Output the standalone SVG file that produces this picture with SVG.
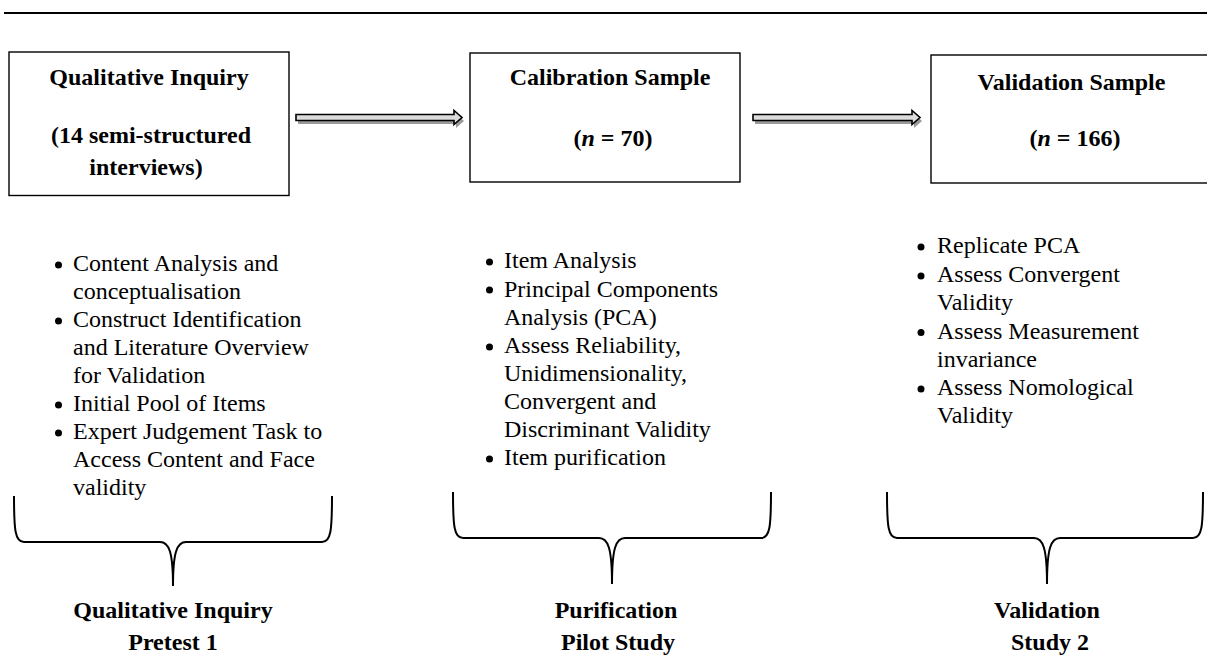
<svg xmlns="http://www.w3.org/2000/svg" width="1207" height="657" viewBox="0 0 1207 657">
<style>
text{font-family:"Liberation Serif","Times New Roman",serif;font-size:24px;fill:#000}
.b{font-weight:bold}
.m{text-anchor:middle}
.box{fill:#fff;stroke:#000;stroke-width:1.4}
.brace{fill:none;stroke:#000;stroke-width:2}
.arr{fill:#dcdcdc;stroke:#000;stroke-width:1.6;stroke-linejoin:miter}
.sh{fill:#9a9a9a}
</style>
<defs>
<polygon id="arrowShape" points="0,-3 -1,-3 0,-3 0,-3"/>
</defs>
<line x1="4" y1="13" x2="1207" y2="13" stroke="#000" stroke-width="2.2"/>

<g id="connectors">
<g id="arrow1">
<polygon class="sh" points="298,118 456,118 456,114 464,121 456,128 456,124 298,124"/>
<polygon class="arr" points="296,114.5 454,114.5 454,110.5 462,117.5 454,124.5 454,120.5 296,120.5"/>
</g>
<g id="arrow2">
<polygon class="sh" points="755,118 914,118 914,114 922,121 914,128 914,124 755,124"/>
<polygon class="arr" points="753,114.5 912,114.5 912,110.5 920,117.5 912,124.5 912,120.5 753,120.5"/>
</g>
</g>

<g id="node-qualitative">
<rect class="box" x="9" y="52" width="280" height="143.5"/>
<text class="b m" x="149" y="85">Qualitative Inquiry</text>
<text class="b m" x="151" y="143">(14 semi-structured</text>
<text class="b m" x="146" y="175">interviews)</text>
</g>

<g id="node-calibration">
<rect class="box" x="470" y="53" width="270" height="129"/>
<text class="b m" x="610" y="85">Calibration Sample</text>
<text class="b m" x="613" y="146">(<tspan font-style="italic">n</tspan> = 70)</text>
</g>

<g id="node-validation">
<rect class="box" x="931" y="55" width="290" height="128"/>
<text class="b m" x="1071.5" y="90">Validation Sample</text>
<text class="b m" x="1075" y="146">(<tspan font-style="italic">n</tspan> = 166)</text>
</g>

<g id="list-qualitative">
<circle cx="58.5" cy="265" r="3.5"/>
<circle cx="58.5" cy="321" r="3.5"/>
<circle cx="58.5" cy="405" r="3.5"/>
<circle cx="58.5" cy="433" r="3.5"/>
<text x="73" y="271">Content Analysis and</text>
<text x="73" y="299">conceptualisation</text>
<text x="73" y="327">Construct Identification</text>
<text x="73" y="355">and Literature Overview</text>
<text x="73" y="383">for Validation</text>
<text x="73" y="411">Initial Pool of Items</text>
<text x="73" y="439">Expert Judgement Task to</text>
<text x="73" y="467">Access Content and Face</text>
<text x="73" y="495">validity</text>
</g>

<g id="list-calibration">
<circle cx="489.5" cy="262" r="3.5"/>
<circle cx="489.5" cy="290" r="3.5"/>
<circle cx="489.5" cy="347" r="3.5"/>
<circle cx="489.5" cy="459" r="3.5"/>
<text x="504" y="268">Item Analysis</text>
<text x="504" y="296.5">Principal Components</text>
<text x="504" y="325">Analysis (PCA)</text>
<text x="504" y="353">Assess Reliability,</text>
<text x="504" y="381">Unidimensionality,</text>
<text x="504" y="409">Convergent and</text>
<text x="504" y="437">Discriminant Validity</text>
<text x="504" y="465">Item purification</text>
</g>

<g id="list-validation">
<circle cx="921" cy="247" r="3.5"/>
<circle cx="921" cy="276" r="3.5"/>
<circle cx="921" cy="332.5" r="3.5"/>
<circle cx="921" cy="389" r="3.5"/>
<text x="937" y="253">Replicate PCA</text>
<text x="937" y="282">Assess Convergent</text>
<text x="937" y="310">Validity</text>
<text x="937" y="338.5">Assess Measurement</text>
<text x="937" y="367">invariance</text>
<text x="937" y="395">Assess Nomological</text>
<text x="937" y="423">Validity</text>
</g>

<g id="brace-1">
<path class="brace" d="M14,496 C14,530 15,542 24,542 L160,542 C169,542 173,552 173,586 C173,552 177,542 186,542 L322,542 C331,542 332,530 332,496"/>
<text class="b m" x="173" y="618">Qualitative Inquiry</text>
<text class="b m" x="173" y="650">Pretest 1</text>
</g>

<g id="brace-2">
<path class="brace" d="M453,492 C453,526 454,538 463,538 L599,538 C608,538 612,548 612,584 C612,548 616,538 625,538 L761,538 C770,538 771,526 771,492"/>
<text class="b m" x="616" y="618">Purification</text>
<text class="b m" x="618" y="650">Pilot Study</text>
</g>

<g id="brace-3">
<path class="brace" d="M887,492 C887,526 888,538 897,538 L1034,538 C1043,538 1047,548 1047,584 C1047,548 1051,538 1060,538 L1193,538 C1202,538 1203,526 1203,492"/>
<text class="b m" x="1047" y="618">Validation</text>
<text class="b m" x="1050" y="650">Study 2</text>
</g>
</svg>
